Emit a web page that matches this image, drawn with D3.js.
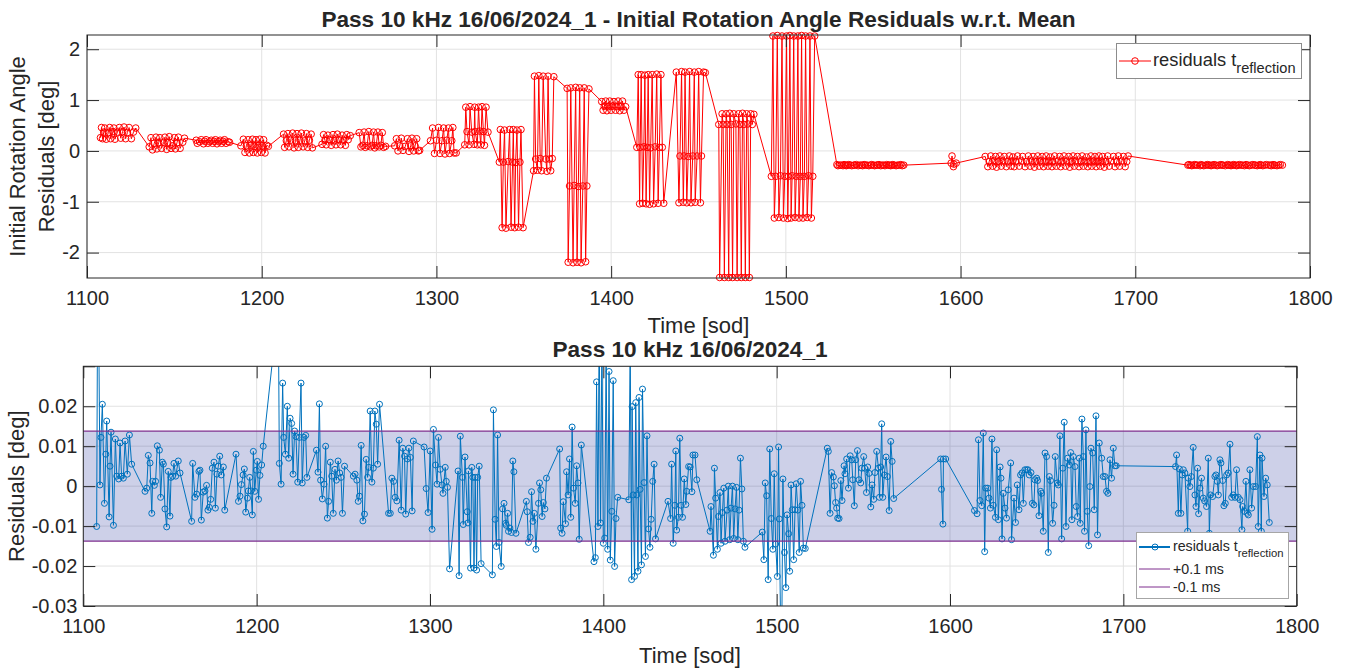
<!DOCTYPE html>
<html lang="en">
<head>
<meta charset="UTF-8">
<title>Pass 10 kHz 16/06/2024_1 residuals</title>
<script src="https://cdn.jsdelivr.net/npm/d3@7"></script>
<style>
  body { margin: 0; background: #fff; }
  text { font-family: "Liberation Sans", Arial, Helvetica, sans-serif; fill: #262626; }
</style>
</head>
<body>
<script>
    const width  = 1354;
    const height = 668;

    // time of each normal point [sod], one sub-array per tracking segment
    const sodGroups = [
        [1107.7,1108.3,1108.9,1109.6,1110.2,1111.0,1112.2,1113.0,1113.5,1114.9,1115.4,1116.0,1117.4,1118.5,1119.3,1120.4,1121.2,1122.1,1123.1,1124.1,1125.4,1126.6,1127.9],
        [1135.6,1136.6,1137.5,1138.5,1139.5,1140.0,1141.0,1141.7,1142.7,1143.9,1144.6,1145.6,1146.2,1147.1,1148.1,1149.0,1150.0,1150.6,1151.5,1152.3,1153.3,1154.8,1155.8],
        [1162.5,1163.1,1164.4,1165.4,1166.7,1167.3,1168.1,1169.2,1170.2,1171.1,1171.9,1172.7,1173.5,1174.4,1175.4,1176.2,1177.1,1177.9,1178.7,1179.6,1180.8,1181.6],
        [1188.1,1189.5,1190.4,1191.2,1192.2,1192.9,1193.7,1194.7,1195.2,1196.0,1196.7,1197.5,1198.1,1198.9,1199.8,1200.4,1201.1,1201.9,1202.9,1203.8],
        [1212.5,1213.1,1214.1,1215.0,1215.6,1216.6,1217.7,1218.5,1219.3,1220.2,1221.0,1221.9,1222.7,1223.7,1224.6,1225.6,1226.3,1227.3,1228.3,1229.0],
        [1234.5,1235.4,1236.2,1236.9,1237.9,1238.9,1239.8,1240.8,1241.5,1242.5,1243.3,1244.2,1245.2,1246.0,1247.0,1247.9,1248.7,1249.5,1250.7],
        [1255.8,1256.8,1257.8,1258.6,1259.3,1260.3,1261.3,1262.2,1263.2,1264.0,1264.7,1265.5,1266.5,1267.3,1268.2,1269.0,1269.8,1270.9],
        [1276.1,1277.1,1278.0,1279.0,1279.9,1280.9,1282.2,1283.4,1284.3,1285.3,1286.0,1287.0,1287.8,1288.7,1289.7,1290.4],
        [1296.6,1297.8,1298.9,1300.1,1301.2,1302.0,1303.2,1304.1,1304.9,1305.9,1306.9,1307.5,1308.8,1309.4,1310.1,1311.3],
        [1316.2,1316.8,1317.5,1318.7,1319.2,1320.2,1321.5,1321.9,1322.2,1323.4,1324.1,1324.7,1325.4,1326.1,1326.9,1327.5,1328.4,1329.5],
        [1336.0,1336.6,1337.6,1338.3,1339.0,1339.8,1341.1,1341.9,1342.7,1343.6,1344.0,1344.8,1345.3,1346.1,1347.0,1347.8,1348.4,1349.6],
        [1355.6,1356.1,1356.8,1357.8,1358.6,1359.4,1360.2,1361.1,1362.6,1363.2,1363.9,1364.7,1365.4,1366.3,1367.2],
        [1374.8,1375.4,1376.2,1376.9,1378.2,1378.8,1379.7,1380.5,1381.2,1382.0,1382.8,1383.8,1384.6,1385.4,1386.1,1387.3],
        [1394.6,1395.4,1396.1,1396.9,1397.6,1398.4,1399.2,1400.0,1400.8,1401.6,1402.5,1403.3,1404.0,1404.9,1405.7,1406.5,1407.3,1408.3],
        [1414.7,1415.5,1416.3,1416.6,1417.2,1418.0,1418.7,1419.3,1420.0,1420.6,1421.2,1422.0,1422.6,1423.5,1424.3,1425.2,1426.1,1426.9,1427.6,1428.5,1429.3,1430.1],
        [1437.3,1438.8,1439.4,1440.3,1441.3,1441.8,1442.3,1443.3,1444.1,1444.9,1445.7,1446.7,1447.6,1448.1,1449.2,1450.1,1451.1,1451.7,1452.9,1453.9],
        [1461.6,1462.1,1463.5,1464.1,1464.8,1465.8,1466.4,1467.3,1467.9,1468.7,1469.5,1470.2,1471.4,1472.1,1472.9,1473.7,1474.5,1475.2,1476.0,1476.8,1477.6,1478.3,1479.1,1479.9,1480.8,1481.7],
        [1491.7,1492.6,1493.4,1494.2,1495.1,1496.0,1496.9,1497.8,1498.6,1499.4,1500.4,1501.1,1501.5,1502.3,1503.0,1503.6,1504.5,1505.3,1506.0,1506.9,1507.5,1508.3,1509.0,1509.8,1510.6,1511.3,1512.2,1513.0,1513.8,1514.6,1515.4,1516.5],
        [1529.2,1529.8,1530.8,1531.7,1532.7,1533.3,1534.0,1534.6,1535.2,1536.0,1537.0,1537.7,1538.9,1539.4,1540.4,1541.4,1542.4,1543.3,1543.9,1544.8,1545.6,1546.6,1547.5,1548.5,1549.1,1550.2,1550.8,1551.8,1552.5,1553.3,1554.3,1555.0,1556.0,1556.7,1557.7,1558.7,1559.3,1560.0,1560.6,1561.2,1562.1,1563.1,1563.9,1564.9,1565.8,1566.6,1567.5],
        [1594.6,1595.1,1595.9,1596.2,1597.5],
        [1614.1,1615.6,1616.4,1617.3,1618.3,1619.2,1620.0,1620.6,1621.7,1622.5,1623.3,1624.2,1625.0,1626.2,1626.9,1627.9,1628.9,1629.4,1630.0,
         1630.7,1631.7,1632.6,1633.6,1635.0,1635.5,1636.9,1637.8,1638.8,1639.8,1640.7,1641.5,1642.3,1643.2,1644.2,1645.0,1645.7,1646.7,1647.5,1648.4,
         1649.0,1650.0,1650.5,1651.3,1652.3,1652.8,1653.8,1654.8,1655.7,1656.7,1657.3,1658.0,1659.2,1660.0,1660.7,1661.9,1662.5,1663.4,1664.4,1665.1,
         1665.9,1666.9,1667.8,1668.8,1669.6,1670.3,1671.1,1672.1,1672.8,1673.6,1674.6,1675.1,1676.1,1676.9,1677.6,1678.4,1679.2,1680.0,1680.7,1681.3,
         1682.3,1683.2,1684.2,1685.1,1686.1,1687.5,1688.4,1689.4,1690.3,1691.1,1692.3,1693.2,1694.2,1695.1,1695.9],
        [1730.1,1730.7,1731.7,1732.3,1733.2,1734.0,1734.6,1735.5,1737.1,1737.5,1738.4,1739.2,1740.3,1741.3,1741.9,1742.8,1743.4,1744.2,1745.1,1746.1,
         1746.9,1748.0,1749.0,1749.6,1750.3,1751.5,1752.8,1753.4,1754.2,1754.8,1755.7,1756.3,1757.3,1758.0,1758.8,1759.6,1760.5,1761.5,1762.5,1763.4,
         1764.4,1765.3,1766.3,1767.3,1768.4,1768.8,1769.8,1770.7,1771.5,1772.1,1773.0,1774.0,1775.0,1776.3,1777.3,1777.8,1778.8,1779.6,1780.0,1781.1,
         1782.1,1783.0,1784.2]
    ];

    // initial rotation angle residuals w.r.t. mean [deg]
    const rotResidGroups = [
        [0.26,0.46,0.24,0.37,0.45,0.23,0.36,0.46,0.24,0.38,0.45,0.23,0.37,0.46,0.25,0.38,0.47,0.24,0.36,0.46,0.24,0.37,0.45],
        [0.08,0.26,0.02,0.15,0.27,0.04,0.16,0.26,0.05,0.17,0.27,0.03,0.16,0.28,0.05,0.10,0.26,0.04,0.16,0.27,0.05,0.17,0.25],
        [0.21,0.15,0.18,0.22,0.14,0.19,0.22,0.15,0.18,0.21,0.15,0.19,0.22,0.14,0.18,0.21,0.15,0.19,0.22,0.15,0.18,0.17],
        [0.10,0.23,-0.03,0.10,0.22,-0.04,0.11,0.23,-0.03,0.09,0.22,-0.04,0.10,0.23,-0.03,0.10,0.22,-0.04,0.11,0.09],
        [0.33,0.07,0.20,0.34,0.08,0.21,0.35,0.06,0.20,0.34,0.07,0.21,0.35,0.08,0.20,0.34,0.07,0.21,0.33,0.06],
        [0.13,0.32,0.21,0.12,0.31,0.22,0.11,0.32,0.20,0.12,0.33,0.22,0.12,0.31,0.21,0.11,0.32,0.22,0.30],
        [0.36,0.08,0.11,0.37,0.07,0.10,0.38,0.08,0.11,0.37,0.06,0.10,0.37,0.08,0.11,0.36,0.07,0.09],
        [0.10,0.24,0.00,0.10,0.25,0.01,0.09,0.24,-0.01,0.10,0.25,0.00,0.10,0.24,0.00,0.01],
        [0.20,0.45,-0.05,0.21,0.46,-0.05,0.20,0.45,-0.06,0.21,0.45,-0.05,0.20,0.46,-0.04,-0.04],
        [0.12,0.86,0.38,0.12,0.87,0.37,0.13,0.86,0.38,0.12,0.86,0.39,0.12,0.87,0.38,0.11,0.86,0.37],
        [-0.22,0.42,-1.51,-0.22,0.41,-1.52,-0.21,0.42,-1.50,-0.22,0.42,-1.51,-0.23,0.41,-1.50,-0.22,0.42,-1.51],
        [-0.39,1.47,-0.16,-0.38,1.48,-0.15,-0.39,1.47,-0.16,-0.40,1.47,-0.16,-0.39,-0.15,1.46],
        [1.23,-2.19,-0.69,1.24,-2.20,-0.68,1.25,-2.19,-0.70,1.24,-2.20,-0.69,1.24,-2.18,-0.69,1.22],
        [0.97,0.80,0.88,0.98,0.79,0.87,0.98,0.80,0.88,0.97,0.80,0.87,0.98,0.79,0.88,0.98,0.80,0.87],
        [0.07,1.50,-1.04,0.07,1.50,-1.03,0.08,1.49,-1.04,0.07,1.50,-1.05,0.06,1.50,-1.04,0.08,1.51,-1.03,0.07,1.50,0.07,-1.03],
        [1.55,-1.02,-0.10,1.56,-1.01,-0.10,1.55,-1.02,-0.11,1.56,-1.02,-0.10,1.55,-1.01,-0.10,1.56,-1.02,-0.10,1.55,1.54],
        [0.52,-2.49,0.73,0.52,-2.49,0.73,0.52,-2.49,0.74,0.52,-2.49,0.73,0.53,-2.49,0.73,0.52,-2.49,0.74,0.52,-2.49,0.73,0.53,-2.49,0.73,0.52,0.72],
        [-0.50,2.26,-1.32,-0.50,2.27,-1.31,-0.49,2.26,-1.32,-0.50,2.26,-1.33,-0.50,2.27,-1.32,-0.49,2.26,-1.31,-0.50,2.26,-1.32,-0.50,2.27,-1.32,-0.50,2.26,-1.31,-0.49,2.26,-1.32,-0.50,2.26],
        [-0.27,-0.29,-0.28,-0.28,-0.29,-0.27,-0.28,-0.29,-0.28,-0.27,-0.28,-0.29,-0.28,-0.28,-0.27,-0.29,-0.28,-0.28,-0.29,-0.27,-0.28,-0.28,-0.29,-0.28,-0.27,-0.28,-0.29,-0.28,-0.28,-0.27,-0.29,-0.28,-0.28,-0.29,-0.27,-0.28,-0.28,-0.29,-0.28,-0.27,-0.28,-0.29,-0.28,-0.28,-0.27,-0.29,-0.28],
        [-0.24,-0.10,-0.31,-0.26,-0.24],
        [-0.11,-0.31,-0.21,-0.10,-0.30,-0.20,-0.11,-0.32,-0.21,-0.10,-0.30,-0.20,-0.11,-0.31,-0.21,-0.10,-0.30,-0.20,-0.12,-0.31,
         -0.21,-0.10,-0.30,-0.20,-0.11,-0.31,-0.21,-0.10,-0.30,-0.20,-0.11,-0.32,-0.21,-0.10,-0.30,-0.20,-0.11,-0.31,-0.21,-0.10,
         -0.30,-0.20,-0.12,-0.31,-0.21,-0.10,-0.30,-0.20,-0.11,-0.31,-0.21,-0.10,-0.30,-0.20,-0.11,-0.32,-0.21,-0.10,-0.30,-0.20,
         -0.11,-0.31,-0.21,-0.10,-0.30,-0.20,-0.12,-0.31,-0.21,-0.10,-0.30,-0.20,-0.11,-0.31,-0.21,-0.10,-0.30,-0.20,-0.11,-0.32,
         -0.21,-0.10,-0.30,-0.20,-0.11,-0.31,-0.21,-0.10,-0.30,-0.20,-0.11,-0.31,-0.21,-0.10],
        [-0.28,-0.27,-0.28,-0.29,-0.28,-0.27,-0.28,-0.28,-0.29,-0.27,-0.28,-0.29,-0.28,-0.27,-0.28,-0.28,-0.29,-0.28,-0.27,-0.28,
         -0.29,-0.28,-0.27,-0.28,-0.28,-0.29,-0.27,-0.28,-0.28,-0.29,-0.28,-0.27,-0.28,-0.29,-0.28,-0.27,-0.28,-0.28,-0.29,-0.27,
         -0.28,-0.29,-0.28,-0.27,-0.28,-0.28,-0.29,-0.28,-0.27,-0.28,-0.29,-0.28,-0.27,-0.28,-0.28,-0.29,-0.27,-0.28,-0.28,-0.29,
         -0.28,-0.27,-0.28]
    ];

    // residuals of t_reflection [deg]
    const reflResidGroups = [
        [-0.0101,0.052,0.041,0.0003,0.0122,0.0205,-0.0043,0.008,0.0163,-0.0077,0.005,0.0135,-0.0098,0.0118,0.0025,0.0018,0.0108,0.0025,0.002,0.0113,0.003,0.0128,0.0055],
        [-0.0013,-0.0005,0.0077,0.0058,-0.0068,0.0012,0.0002,0.0012,0.0101,0.009,-0.0028,0.006,0.0055,-0.0057,-0.0102,0.0037,-0.0075,0.0022,0.0025,0.0057,0.0025,0.0063,0.0033],
        [-0.0088,0.0057,-0.0028,-0.002,0.0037,0.004,-0.0085,-0.0015,-0.0012,0.0002,-0.006,-0.0053,-0.0033,0.0045,0.006,-0.0055,0.003,0.005,0.0075,0.0028,0.0048,-0.006],
        [0.008,-0.0038,-0.0025,0.0004,0.0028,0.0043,-0.0065,-0.003,-0.0012,0.0022,-0.0012,-0.0072,0.0087,-0.0013,0.004,0.0062,-0.0033,0.0027,0.0053,0.01],
        [0.045,0.0057,0.0005,0.0258,0.0122,0.008,0.02,0.007,0.017,0.0157,0.003,0.0138,0.0124,0.001,0.0122,0.0258,0.0008,0.0122,0.0127,0.0022],
        [0.009,0.0035,0.0206,0.0015,-0.0032,0.0005,0.01,-0.008,-0.0038,0.006,0.0025,-0.0068,0.0042,0.0015,0.0063,0.0033,0.0022,-0.0068,0.005],
        [0.0025,0.003,0.0015,-0.0038,-0.0025,0.0102,-0.0087,-0.007,0.0067,0.0022,0.0047,0.0188,0.001,0.0045,0.0188,0.0155,0.0055,0.0205],
        [-0.0068,-0.0068,0.002,0.0012,-0.0028,-0.0037,0.0115,-0.006,0.0095,0.0075,-0.007,0.0068,0.0095,0.0072,-0.0062,0.0113],
        [0.0098,-0.0006,-0.0066,0.0088,-0.0108,0.0142,0.0053,0.0005,0.0122,0.0042,0.0003,-0.0018,0.0047,0.0012,-0.0003,-0.0207],
        [0.0038,-0.0224,0.0125,0.0022,-0.0096,0.0073,-0.0064,-0.0092,0.0038,-0.0205,0.0047,0.0022,-0.0205,0.0022,-0.021,0.0022,0.005,-0.0194],
        [-0.0222,0.0191,-0.0083,-0.0151,0.0128,-0.0141,-0.0201,-0.0057,-0.0043,-0.0093,-0.0098,-0.0068,-0.0113,-0.0105,-0.0116,0.0063,0.0036,-0.0118],
        [-0.0038,-0.0064,-0.0141,-0.0128,-0.0014,-0.0088,-0.0068,-0.0158,-0.0043,0.0008,-0.0009,-0.0076,-0.0041,-0.0057,0.002],
        [0.0093,-0.0105,-0.0118,-0.0039,-0.0094,0.0036,-0.0022,0.0068,-0.0078,0.0148,-0.0005,-0.0043,0.0051,0.0008,-0.0133,0.0103],
        [-0.0189,-0.0179,0.0261,-0.0101,0.042,-0.0092,0.038,-0.0143,-0.013,0.034,-0.0158,0.0287,-0.0185,-0.0063,0.0264,-0.0201,-0.0081,-0.0028],
        [-0.0034,0.036,-0.0234,0.0199,-0.0022,-0.0226,0.0209,-0.0022,-0.0213,0.0222,-0.0008,-0.0197,0.0243,0.0009,-0.0176,0.0126,-0.0107,-0.0153,-0.0083,0.0012,0.0055,-0.0132],
        [-0.0038,-0.0081,0.0055,-0.0143,-0.0048,0.0088,-0.011,-0.0078,0.012,-0.0048,-0.0078,0.0018,-0.0046,-0.0013,0.0049,0.0048,-0.0014,0.0078,0.0078,0.0016],
        [-0.0113,-0.0051,-0.0173,0.0045,-0.003,-0.0158,-0.0076,-0.0016,-0.0143,-0.0066,-0.0005,-0.0138,-0.006,0.0,-0.0134,-0.0055,0.0,-0.0131,-0.0057,-0.0003,-0.0134,-0.006,0.007,-0.0007,-0.0138,-0.0153],
        [-0.0115,-0.0184,0.0008,-0.0024,-0.0234,0.0093,-0.0081,-0.0158,0.0031,-0.0145,-0.0226,0.0098,-0.0082,-0.036,-0.034,0.0018,-0.0166,-0.0254,-0.0072,-0.0119,-0.0213,0.0003,-0.0059,-0.0184,-0.0059,0.0006,-0.006,-0.0166,0.0012,-0.0048,-0.0155,-0.0156],
        [0.0095,0.0087,-0.0068,0.0034,0.0023,0.0001,-0.0041,-0.0055,-0.008,-0.0081,0.0014,-0.0036,0.0051,0.0031,0.0068,-0.0005,0.0076,0.0066,0.0016,-0.0049,0.0066,0.0089,0.0016,0.0008,0.0045,0.0074,0.0045,-0.0016,0.0048,0.0032,-0.0052,0.0003,-0.0033,0.0034,0.0087,0.0045,-0.0028,0.0048,0.0156,-0.0028,0.0028,0.0073,0.0024,-0.0061,0.0112,0.0062,-0.0031],
        [0.0068,-0.0008,-0.0095,0.0068,0.0068],
        [-0.0061,-0.0069,0.0116,-0.0036,-0.0049,0.0133,-0.0164,-0.0005,-0.0005,-0.003,-0.0055,0.0118,-0.0048,-0.0078,0.0091,-0.0084,0.0048,0.002,-0.0132,
         -0.0018,-0.0055,-0.008,-0.0009,0.0058,-0.0134,-0.003,-0.0091,0.0003,-0.0059,0.0028,0.0033,-0.0043,0.0041,0.0041,0.0041,0.0028,0.0034,-0.0043,-0.0047,
         0.0016,0.002,0.0014,-0.0074,-0.0013,-0.0018,-0.0113,0.0083,0.0074,-0.0166,0.0024,0.0014,-0.0093,-0.0048,0.0074,0.0008,0.0003,0.0126,-0.0132,0.0045,
         0.016,-0.0101,0.007,0.0053,0.0084,-0.0084,0.0074,0.0049,-0.0051,-0.0076,0.007,-0.0093,0.0168,0.0074,-0.0113,0.0141,-0.0063,-0.0149,-0.0001,0.0095,
         0.0083,-0.0059,0.0176,-0.0122,0.0108,0.007,0.0024,0.0024,-0.0013,-0.0018,0.0066,0.002,0.0095,0.0051,0.0051],
        [0.0049,0.0078,-0.0068,0.0043,-0.0068,0.0028,0.0041,0.0033,-0.0113,0.002,-0.0001,0.0024,0.0097,-0.0022,-0.0051,0.0045,-0.0069,-0.0005,0.002,-0.003,
         -0.0037,-0.0051,0.007,-0.0118,-0.0022,-0.0026,0.0024,0.0028,0.0012,-0.0022,0.0066,0.0058,0.0014,-0.0049,-0.0043,0.0028,0.0033,0.0105,-0.0028,-0.0022,
         -0.0028,0.0041,-0.0028,-0.0034,-0.0109,-0.0051,-0.0063,0.0012,-0.0068,-0.0072,0.0041,-0.0055,-0.0001,-0.0001,0.0124,-0.0101,0.0078,-0.0113,0.007,-0.0026,
         0.002,0.0003,-0.0091]
    ];

    // +/- 0.1 ms expressed in degrees
    const bandLimit = 0.01375;

    const xTicks     = [1100,1200,1300,1400,1500,1600,1700,1800];
    const topYTicks  = [-2,-1,0,1,2];
    const botYTicks  = [-0.03,-0.02,-0.01,0,0.01,0.02,0.03];
    const botYLabels = ["-0.03","-0.02","-0.01","0","0.01","0.02",""];

    // zip the groups together
    const points = [];
    sodGroups.forEach((g, gi) => {
        const n = Math.min(g.length, rotResidGroups[gi].length, reflResidGroups[gi].length);
        for (let i = 0; i < n; i++) {
            points.push({t: g[i], rot: rotResidGroups[gi][i], refl: reflResidGroups[gi][i]});
        }
    });

    const textColor = "#262626";
    const gridColor = "#e2e2e2";

    const svg = d3.select("body").append("svg").attr("width", width).attr("height", height);

    function drawGrid(box, x, y, yTicks) {
        const g = svg.append("g");
        g.selectAll(null).data(xTicks).join("line")
            .attr("x1", d => x(d)).attr("x2", d => x(d))
            .attr("y1", box.top).attr("y2", box.bottom)
            .attr("stroke", gridColor).attr("stroke-width", 1);
        g.selectAll(null).data(yTicks).join("line")
            .attr("x1", box.left).attr("x2", box.right)
            .attr("y1", d => y(d)).attr("y2", d => y(d))
            .attr("stroke", gridColor).attr("stroke-width", 1);
        return g;
    }

    function drawAxes(box, x, y, yTicks, yFmt, xPad, yPad) {
        const font = (sel) => sel.attr("font-size", 20)
            .attr("font-family", '"Liberation Sans", Arial, sans-serif')
            .attr("color", textColor);
        svg.append("g").attr("transform", "translate(0," + box.bottom + ")")
            .call(d3.axisBottom(x).tickValues(xTicks).tickSize(-12).tickPadding(xPad).tickFormat(d3.format("d")))
            .call(font).call(g => g.select(".domain").remove());
        svg.append("g").attr("transform", "translate(0," + box.top + ")")
            .call(d3.axisTop(x).tickValues(xTicks).tickSize(-12).tickFormat(""))
            .call(font).call(g => g.select(".domain").remove());
        svg.append("g").attr("transform", "translate(" + box.left + ",0)")
            .call(d3.axisLeft(y).tickValues(yTicks).tickSize(-12).tickPadding(yPad).tickFormat(yFmt))
            .call(font).call(g => g.select(".domain").remove());
        svg.append("g").attr("transform", "translate(" + box.right + ",0)")
            .call(d3.axisRight(y).tickValues(yTicks).tickSize(-12).tickFormat(""))
            .call(font).call(g => g.select(".domain").remove());
        svg.append("rect")
            .attr("x", box.left).attr("y", box.top)
            .attr("width", box.right - box.left).attr("height", box.bottom - box.top)
            .attr("fill", "none").attr("stroke", textColor).attr("stroke-width", 1);
    }

    // ---------- top panel ----------
    const topBox = {left: 87, right: 1310, top: 35, bottom: 278};
    const xTop = d3.scaleLinear().domain([1100, 1800]).range([topBox.left, topBox.right]);
    const yTop = d3.scaleLinear().domain([-2.5, 2.28]).range([topBox.bottom, topBox.top]);

    drawGrid(topBox, xTop, yTop, topYTicks);

    const lineTop = d3.line().x(d => xTop(d.t)).y(d => yTop(d.rot));
    svg.append("path").datum(points)
        .attr("d", lineTop)
        .attr("fill", "none").attr("stroke", "#ff0000").attr("stroke-width", 1);
    svg.append("g").selectAll("circle").data(points).join("circle")
        .attr("cx", d => xTop(d.t)).attr("cy", d => yTop(d.rot)).attr("r", 3.3)
        .attr("fill", "none").attr("stroke", "#ff0000").attr("stroke-width", 1);

    drawAxes(topBox, xTop, yTop, topYTicks, d => String(d), 13, 7);

    svg.append("text").attr("x", (topBox.left + topBox.right) / 2).attr("y", 27)
        .attr("text-anchor", "middle").attr("font-size", 22.6).attr("font-weight", "bold")
        .text("Pass 10 kHz 16/06/2024_1 - Initial Rotation Angle Residuals w.r.t. Mean");
    svg.append("text").attr("x", (topBox.left + topBox.right) / 2).attr("y", 333)
        .attr("text-anchor", "middle").attr("font-size", 22).text("Time [sod]");
    const topMid = (topBox.top + topBox.bottom) / 2;
    svg.append("text").attr("transform", "translate(25," + topMid + ") rotate(-90)")
        .attr("text-anchor", "middle").attr("font-size", 22).text("Initial Rotation Angle");
    svg.append("text").attr("transform", "translate(54," + topMid + ") rotate(-90)")
        .attr("text-anchor", "middle").attr("font-size", 22).text("Residuals [deg]");

    // top legend
    const lgTop = svg.append("g");
    lgTop.append("rect").attr("x", 1116.5).attr("y", 43.5).attr("width", 185).attr("height", 35)
        .attr("fill", "#fff").attr("stroke", "#8c8c8c").attr("stroke-width", 1);
    lgTop.append("line").attr("x1", 1119).attr("x2", 1151).attr("y1", 61).attr("y2", 61)
        .attr("stroke", "#ff0000").attr("stroke-width", 1);
    lgTop.append("circle").attr("cx", 1135).attr("cy", 61).attr("r", 3.3)
        .attr("fill", "none").attr("stroke", "#ff0000");
    const lgTopText = lgTop.append("text").attr("x", 1153).attr("y", 66).attr("font-size", 18.3);
    lgTopText.append("tspan").text("residuals t");
    lgTopText.append("tspan").attr("dy", 7).attr("font-size", 14.6).text("reflection");

    // ---------- bottom panel ----------
    const botBox = {left: 83.3, right: 1296.7, top: 366.3, bottom: 606};
    const xBot = d3.scaleLinear().domain([1100, 1800]).range([botBox.left, botBox.right]);
    const yBot = d3.scaleLinear().domain([-0.03, 0.03]).range([botBox.bottom, botBox.top]);

    drawGrid(botBox, xBot, yBot, botYTicks);

    svg.append("clipPath").attr("id", "clipBot").append("rect")
        .attr("x", botBox.left).attr("y", botBox.top)
        .attr("width", botBox.right - botBox.left).attr("height", botBox.bottom - botBox.top);

    // +/-0.1 ms band
    svg.append("rect")
        .attr("x", botBox.left).attr("y", yBot(bandLimit))
        .attr("width", botBox.right - botBox.left).attr("height", yBot(-bandLimit) - yBot(bandLimit))
        .attr("fill", "rgb(5,20,140)").attr("fill-opacity", 0.2);

    const botData = svg.append("g").attr("clip-path", "url(#clipBot)");
    const lineBot = d3.line().x(d => xBot(d.t)).y(d => yBot(d.refl));
    botData.append("path").datum(points)
        .attr("d", lineBot)
        .attr("fill", "none").attr("stroke", "#0072bd").attr("stroke-width", 1);
    botData.selectAll("circle").data(points).join("circle")
        .attr("cx", d => xBot(d.t)).attr("cy", d => yBot(d.refl)).attr("r", 3)
        .attr("fill", "none").attr("stroke", "#0072bd").attr("stroke-width", 1);

    [bandLimit, -bandLimit].forEach(v => {
        svg.append("line")
            .attr("x1", botBox.left).attr("x2", botBox.right)
            .attr("y1", yBot(v)).attr("y2", yBot(v))
            .attr("stroke", "#7e2f8e").attr("stroke-width", 1.2);
    });

    drawAxes(botBox, xBot, yBot, botYTicks, d => botYLabels[botYTicks.indexOf(d)], 13, 6);

    svg.append("text").attr("x", (botBox.left + botBox.right) / 2).attr("y", 356.7)
        .attr("text-anchor", "middle").attr("font-size", 22.6).attr("font-weight", "bold")
        .text("Pass 10 kHz 16/06/2024_1");
    svg.append("text").attr("x", (botBox.left + botBox.right) / 2).attr("y", 662.5)
        .attr("text-anchor", "middle").attr("font-size", 22).text("Time [sod]");
    svg.append("text").attr("transform", "translate(24," + (botBox.top + botBox.bottom) / 2 + ") rotate(-90)")
        .attr("text-anchor", "middle").attr("font-size", 22).text("Residuals [deg]");

    // bottom legend
    const lgBot = svg.append("g");
    lgBot.append("rect").attr("x", 1136.5).attr("y", 532.5).attr("width", 152).attr("height", 66)
        .attr("fill", "#fff").attr("stroke", "#a6a6a6").attr("stroke-width", 1);
    lgBot.append("line").attr("x1", 1139).attr("x2", 1170).attr("y1", 547).attr("y2", 547)
        .attr("stroke", "#0072bd").attr("stroke-width", 2);
    lgBot.append("circle").attr("cx", 1155).attr("cy", 547).attr("r", 3)
        .attr("fill", "none").attr("stroke", "#0072bd");
    const lgBotText = lgBot.append("text").attr("x", 1173).attr("y", 551).attr("font-size", 14.2);
    lgBotText.append("tspan").text("residuals t");
    lgBotText.append("tspan").attr("dy", 5.5).attr("font-size", 11.3).text("reflection");
    const bandLegend = ["+0.1 ms", "-0.1 ms"];
    bandLegend.forEach((lab, i) => {
        const yy = 569 + i * 18;
        lgBot.append("line").attr("x1", 1139).attr("x2", 1170).attr("y1", yy).attr("y2", yy)
            .attr("stroke", "#7e2f8e").attr("stroke-width", 1);
        lgBot.append("text").attr("x", 1173).attr("y", yy + 5).attr("font-size", 14.2).text(lab);
    });
</script>
</body>
</html>
